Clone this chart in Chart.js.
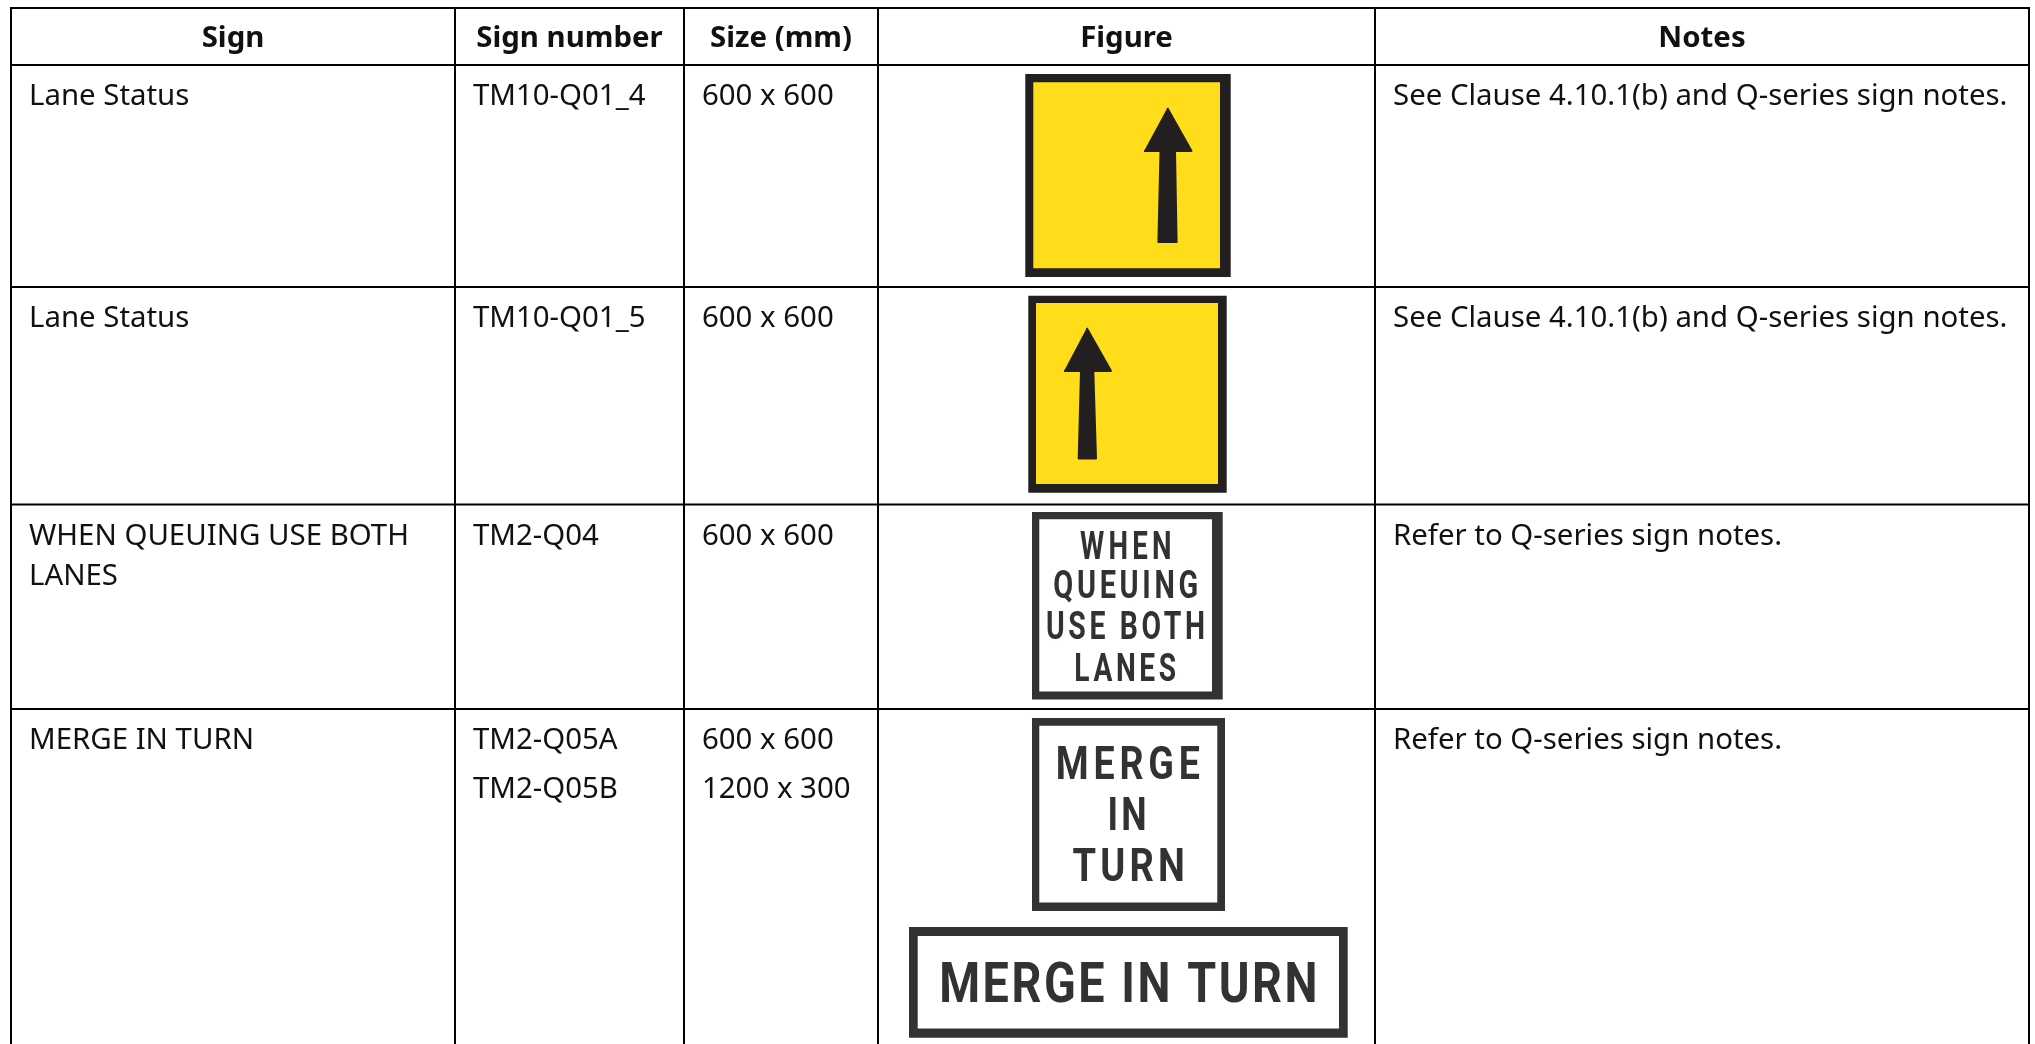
<!DOCTYPE html>
<html>
<head>
<meta charset="utf-8">
<title>Q-series signs</title>
<style>
    html, body { margin: 0; padding: 0; background: #fff; overflow: hidden; }
    #signTable { display: block; }
</style>
<script src="https://cdn.jsdelivr.net/npm/chart.js@4"></script>
</head>
<body>
<canvas id="signTable" width="2035" height="1044"></canvas>
<script>
// table content
const headers = ['Sign', 'Sign number', 'Size (mm)', 'Figure', 'Notes'];
const signNames = [['Lane Status'], ['Lane Status'], ['WHEN QUEUING USE BOTH', 'LANES'], ['MERGE IN TURN']];
const signNumbers = [['TM10-Q01_4'], ['TM10-Q01_5'], ['TM2-Q04'], ['TM2-Q05A', 'TM2-Q05B']];
const signSizes = [['600 x 600'], ['600 x 600'], ['600 x 600'], ['600 x 600', '1200 x 300']];
const signNotes = ['See Clause 4.10.1(b) and Q-series sign notes.', 'See Clause 4.10.1(b) and Q-series sign notes.', 'Refer to Q-series sign notes.', 'Refer to Q-series sign notes.'];

// table grid, in the units of the chart's axes
const columnEdges = [11, 455, 684, 878, 1375, 2029];
const rowEdges = [8, 65, 287, 504.5, 709];
const tableBottom = 1044;

// sign boards [left, top, right, bottom]
const yellowBoards = [[1025.3, 74, 1230.7, 277], [1028.3, 295.7, 1226.7, 492.7]];
const yellowFaces = [[1033.3, 82.3, 1220, 268.3], [1036, 303, 1218, 484]];
const whiteBoards = [[1032, 512, 1222.7, 699.5], [1032, 718, 1225, 911], [909, 927, 1347.7, 1037.7]];
const whiteFaces = [[1039.3, 519.3, 1212, 691.4], [1039.3, 725.7, 1217.3, 902.4], [917.7, 936, 1339, 1028.5]];

// arrow outlines
const arrowRight = [[1167.3, 108], [1191.5, 151], [1175, 151], [1176.6, 242], [1158.4, 242], [1160.5, 151], [1144, 151]];
const arrowLeft = [[1086.7, 328], [1111, 371], [1093.3, 371], [1096, 458.6], [1078.7, 458.6], [1081, 371], [1064, 371]];

// sign lettering
const letterWords = ['WHEN', 'QUEUING', 'USE BOTH', 'LANES', 'MERGE', 'IN', 'TURN', 'MERGE IN TURN'];
const letterCentres = [1125.8, 1125.8, 1125.5, 1125.2, 1127.8, 1127, 1128.7, 1128.3];
const letterBaselines = [559, 598, 639, 681, 779, 830, 880.5, 1002.4];
const letterWidths = [91.7, 145, 159, 101.7, 144.3, 39, 112.3, 378.3];
const letterSizes = [39, 39, 39, 39, 46, 46, 46, 55];
const letterSpacings = [6, 5, 5, 5, 6, 4, 5, 3];

const textColor = '#111';
const boardDark = '#333132';
const arrowDark = '#231f20';
const signYellow = '#ffdd1a';
const bodyFont = '"Noto Sans"';
const bodySize = 29.4;

function rectPoints(box) {
    return [
        { x: box[0], y: box[1] },
        { x: box[2], y: box[1] },
        { x: box[2], y: box[3] },
        { x: box[0], y: box[3] }
    ];
}

function shapeDataset(points, color, borderWidth) {
    return {
        data: points,
        showLine: true,
        fill: 'shape',
        backgroundColor: color,
        borderColor: color,
        borderWidth: borderWidth || 0,
        borderJoinStyle: 'round',
        pointRadius: 0,
        tension: 0,
        clip: false
    };
}

function ruleDataset(x0, y0, x1, y1) {
    return {
        data: [{ x: x0, y: y0 }, { x: x1, y: y1 }],
        showLine: true,
        fill: false,
        borderColor: '#000',
        borderWidth: 2,
        borderCapStyle: 'square',
        pointRadius: 0,
        clip: false
    };
}

// first dataset ends up on top, so arrows and faces go before the boards
const datasets = [];
datasets.push(shapeDataset(arrowRight.map(p => ({ x: p[0], y: p[1] })), arrowDark, 2));
datasets.push(shapeDataset(arrowLeft.map(p => ({ x: p[0], y: p[1] })), arrowDark, 2));
yellowFaces.forEach(box => datasets.push(shapeDataset(rectPoints(box), signYellow)));
yellowBoards.forEach(box => datasets.push(shapeDataset(rectPoints(box), arrowDark)));
whiteFaces.forEach(box => datasets.push(shapeDataset(rectPoints(box), '#fff')));
whiteBoards.forEach(box => datasets.push(shapeDataset(rectPoints(box), boardDark)));
columnEdges.forEach(x => datasets.push(ruleDataset(x, rowEdges[0], x, tableBottom)));
rowEdges.forEach(y => datasets.push(ruleDataset(columnEdges[0], y, columnEdges[columnEdges.length - 1], y)));

// cell text and sign lettering, drawn through the chart's scales
const tableText = {
    id: 'tableText',
    afterDatasetsDraw(chart) {
        const ctx = chart.ctx;
        const xs = chart.scales.x;
        const ys = chart.scales.y;
        const lineGap = 49;
        ctx.save();
        ctx.textBaseline = 'alphabetic';
        ctx.fillStyle = textColor;

        // header row
        ctx.font = `bold ${bodySize}px ${bodyFont}`;
        ctx.textAlign = 'center';
        headers.forEach((label, i) => {
            const mid = (columnEdges[i] + columnEdges[i + 1]) / 2;
            ctx.fillText(label, xs.getPixelForValue(mid), ys.getPixelForValue(rowEdges[0] + 39));
        });

        // body rows
        ctx.font = `${bodySize}px ${bodyFont}`;
        ctx.textAlign = 'left';
        const cellLines = (lines, col, row, gap) => {
            lines.forEach((line, k) => {
                const px = xs.getPixelForValue(columnEdges[col] + 18);
                const py = ys.getPixelForValue(rowEdges[row + 1] + 40 + k * gap);
                ctx.fillText(line, px, py);
            });
        };
        signNames.forEach((lines, r) => cellLines(lines, 0, r, 40));
        signNumbers.forEach((lines, r) => cellLines(lines, 1, r, lineGap));
        signSizes.forEach((lines, r) => cellLines(lines, 2, r, lineGap));
        signNotes.forEach((note, r) => cellLines([note], 4, r, 0));

        // lettering on the white boards, squeezed to the measured width
        ctx.fillStyle = boardDark;
        ctx.textAlign = 'left';
        letterWords.forEach((word, i) => {
            ctx.font = `700 ${letterSizes[i]}px Roboto`;
            ctx.letterSpacing = letterSpacings[i] + 'px';
            const natural = ctx.measureText(word).width - letterSpacings[i];
            const target = letterWidths[i];
            ctx.save();
            ctx.translate(xs.getPixelForValue(letterCentres[i] - target / 2), ys.getPixelForValue(letterBaselines[i]));
            ctx.scale(target / natural, 1);
            ctx.fillText(word, 0, 0);
            ctx.restore();
        });
        ctx.restore();
    }
};

new Chart(document.getElementById('signTable'), {
    type: 'scatter',
    data: { datasets },
    options: {
        responsive: false,
        animation: false,
        events: [],
        layout: { padding: 0 },
        plugins: { legend: { display: false }, tooltip: { enabled: false } },
        scales: {
            x: { type: 'linear', min: 0, max: 2035, display: false },
            y: { type: 'linear', min: 0, max: 1044, reverse: true, display: false }
        }
    },
    plugins: [tableText]
});
</script>
</body>
</html>
